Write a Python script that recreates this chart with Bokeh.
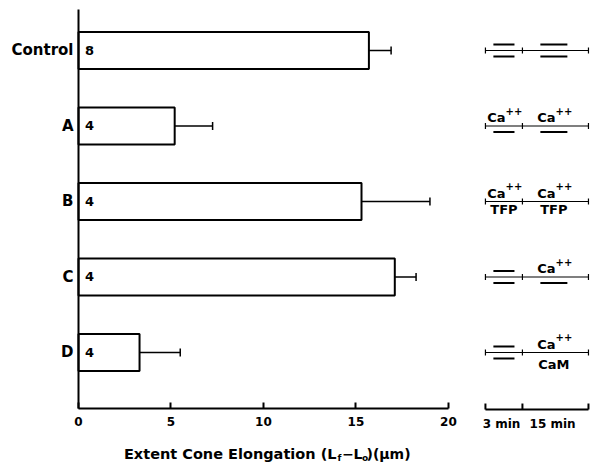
from bokeh.plotting import figure
from bokeh.models import FixedTicker, Whisker, TeeHead, ColumnDataSource, Range1d
from bokeh.embed import file_html
from bokeh.resources import INLINE
from bokeh.core.properties import value

# ---- data ----
conditions = ["Control", "A", "B", "C", "D"]
elongation = [15.7, 5.2, 15.3, 17.1, 3.3]
sem = [1.2, 2.05, 3.7, 1.15, 2.2]
n_cells = ["8", "4", "4", "4", "4"]
x_ticks = [0, 5, 10, 15, 20]
period_names = ["3 min", "15 min"]
first_top = ["bar", "Ca", "Ca", "bar", "bar"]
first_bottom = ["bar", "bar", "TFP", "bar", "bar"]
second_top = ["bar", "Ca", "Ca", "Ca", "Ca"]
second_bottom = ["bar", "bar", "TFP", "bar", "CaM"]

FONT = "DejaVu Sans"
PXY = 75.5   # pixels per y unit (layout helper)
PXX = 18.497  # pixels per x unit (layout helper)
X0PX = 78     # pixel position of x = 0

ypos = list(range(len(conditions)))[::-1]
axis_y = -0.742          # where the value axis sits
axis_top = 4.543
fy0, fy1 = -1.510, 4.662
fx0, fx1 = -X0PX / PXX, 27.68

src = ColumnDataSource(dict(
    y=ypos, val=elongation, n=n_cells,
    lo=[m - s for m, s in zip(elongation, sem)],
    hi=[m + s for m, s in zip(elongation, sem)],
))

p = figure(frame_width=590, frame_height=466,
           x_range=Range1d(fx0, fx1), y_range=Range1d(fy0, fy1),
           output_backend="svg", toolbar_location=None,
           min_border_left=0, min_border_right=0, min_border_top=0, min_border_bottom=0)
p.xgrid.visible = False
p.ygrid.visible = False
p.outline_line_color = None
p.background_fill_color = "white"

# axes
xa = p.xaxis[0]
xa.fixed_location = axis_y
xa.ticker = FixedTicker(ticks=x_ticks)
xa.bounds = (0, 20)
xa.major_tick_in = 6
xa.major_tick_out = 0
xa.minor_tick_line_color = None
xa.axis_line_width = 2
xa.major_tick_line_width = 2
xa.major_label_text_font = FONT
xa.major_label_text_font_style = "bold"
xa.major_label_text_font_size = "12px"
xa.major_label_text_color = "black"
xa.major_label_standoff = 8

ya = p.yaxis[0]
ya.fixed_location = 0
ya.ticker = FixedTicker(ticks=ypos)
ya.bounds = (axis_y, axis_top)
ya.major_label_overrides = {y: c for y, c in zip(ypos, conditions)}
ya.major_tick_in = 0
ya.major_tick_out = 0
ya.minor_tick_line_color = None
ya.axis_line_width = 2
ya.major_label_text_font = FONT
ya.major_label_text_font_style = "bold"
ya.major_label_text_font_size = "15px"
ya.major_label_text_color = "black"
ya.major_label_standoff = 5

# bars
p.hbar(y="y", left=0, right="val", height=0.49, fill_color="white",
       line_color="black", line_width=2, source=src)
p.add_layout(Whisker(source=src, base="y", lower="lo", upper="hi", dimension="width",
                     line_width=1.5, line_color="black",
                     upper_head=TeeHead(size=8, line_width=1.5),
                     lower_head=TeeHead(size=8, line_width=1.5)))
p.text(x=0.35, y="y", text="n", source=src, text_font=value(FONT), text_font_style="bold",
       text_font_size="13px", text_baseline="middle", text_align="left", text_color="black")

# protocol diagram
bounds = [22.0, 24.0, 27.57]
dash_ext = [(22.43, 23.57), (24.97, 26.43)]
centers = [23.0, 25.7]
under_off = {"TFP": 1, "CaM": 5}
dy = 6 / PXY
tick = 3 / PXY

lx0, lx1, ly = [], [], []
tx, ty0, ty1 = [], [], []
dx0, dx1, dyy = [], [], []
ca_x, ca_y, pp_y = [], [], []
bt_x, bt_y, bt_t = [], [], []
for y, tops, bots in zip(ypos, zip(first_top, second_top), zip(first_bottom, second_bottom)):
    lx0.append(bounds[0]); lx1.append(bounds[2]); ly.append(y)
    for b in bounds:
        tx.append(b); ty0.append(y - tick); ty1.append(y + tick)
    for k in range(2):
        a, b = dash_ext[k]
        if tops[k] == "bar":
            dx0.append(a); dx1.append(b); dyy.append(y + dy)
        elif tops[k] == "Ca":
            ca_x.append(centers[k] + 0.09); ca_y.append(y + 8 / PXY); pp_y.append(y + 15 / PXY)
        if bots[k] == "bar":
            dx0.append(a); dx1.append(b); dyy.append(y - dy)
        else:
            bt_x.append(centers[k]); bt_y.append(y - under_off[bots[k]] / PXY); bt_t.append(bots[k])

p.segment(x0=lx0, y0=ly, x1=lx1, y1=ly, line_color="black", line_width=1.2)
p.segment(x0=tx, y0=ty0, x1=tx, y1=ty1, line_color="black", line_width=1.2)
p.segment(x0=dx0, y0=dyy, x1=dx1, y1=dyy, line_color="black", line_width=2)
p.text(x=ca_x, y=ca_y, text=["Ca"] * len(ca_x), text_font=value(FONT), text_font_style="bold",
       text_font_size="13px", text_align="right", text_baseline="alphabetic", text_color="black")
p.text(x=ca_x, y=pp_y, text=["++"] * len(ca_x), text_font=value(FONT), text_font_style="bold",
       text_font_size="10px", text_align="left", text_baseline="middle", text_color="black")
p.text(x=bt_x, y=bt_y, text=bt_t, text_font=value(FONT), text_font_style="bold",
       text_font_size="13px", text_align="center", text_baseline="top", text_color="black")

# time bracket
yb = axis_y - 1 / PXY
p.segment(x0=[bounds[0]], y0=[yb], x1=[bounds[2]], y1=[yb], line_color="black", line_width=2)
p.segment(x0=bounds, y0=[yb] * 3, x1=bounds, y1=[yb + 6 / PXY] * 3, line_color="black", line_width=2)
p.text(x=[22.87, 25.63], y=[axis_y - 15.5 / PXY] * 2, text=period_names, text_font=value(FONT),
       text_font_style="bold", text_font_size="12px", text_align="center",
       text_baseline="alphabetic", text_color="black")

# axis title with subscripts
base = axis_y - 45 / PXY
sub = base - 4 / PXY
px = lambda v: (v - X0PX) / PXX
p.text(x=[px(336)], y=[base], text=["Extent Cone Elongation (L"], text_font=value(FONT),
       text_font_style="bold", text_font_size="14.5px", text_align="right",
       text_baseline="alphabetic", text_color="black")
p.text(x=[px(347.5)], y=[base], text=["\u2212"], text_font=value(FONT),
       text_font_style="bold", text_font_size="14px", text_align="center",
       text_baseline="alphabetic", text_color="black")
p.text(x=[px(353), px(366)], y=[base, base], text=["L", ")(\u03bcm)"], text_font=value(FONT),
       text_font_style="bold", text_font_size="14px", text_align="left",
       text_baseline="alphabetic", text_color="black")
p.text(x=[px(337), px(361.5)], y=[sub, sub], text=["f", "o"], text_font=value(FONT),
       text_font_style="bold", text_font_size="9px", text_align="left",
       text_baseline="alphabetic", text_color="black")

open("out.html", "w").write(file_html(p, INLINE))
